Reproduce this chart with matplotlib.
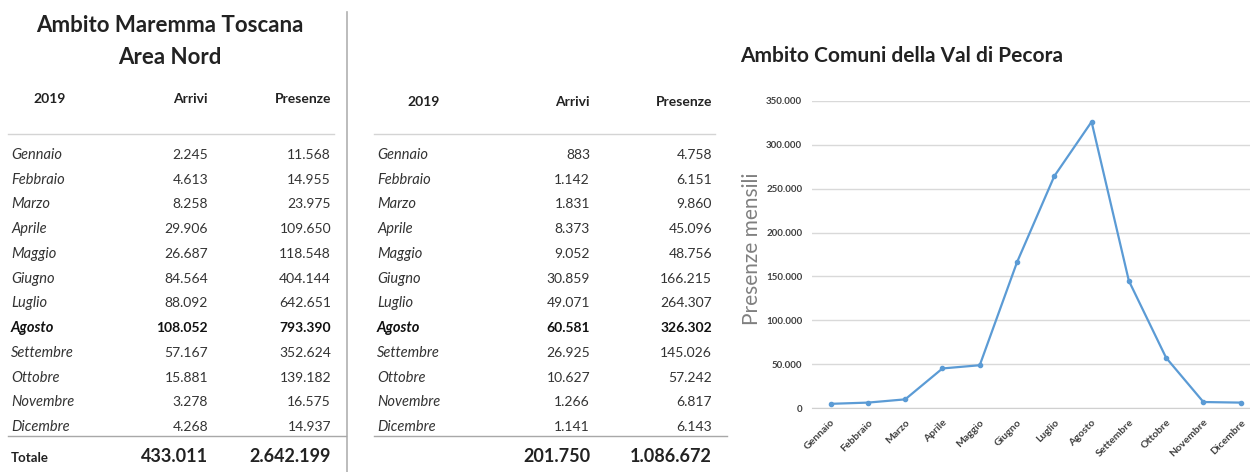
import matplotlib
matplotlib.use("Agg")
import matplotlib.pyplot as plt
from matplotlib.lines import Line2D

# dati
mesi = ["Gennaio", "Febbraio", "Marzo", "Aprile", "Maggio", "Giugno",
        "Luglio", "Agosto", "Settembre", "Ottobre", "Novembre", "Dicembre"]

arrivi_nord = [2245, 4613, 8258, 29906, 26687, 84564, 88092, 108052, 57167, 15881, 3278, 4268]
presenze_nord = [11568, 14955, 23975, 109650, 118548, 404144, 642651, 793390, 352624, 139182, 16575, 14937]
totali_nord = [433011, 2642199]

arrivi_pecora = [883, 1142, 1831, 8373, 9052, 30859, 49071, 60581, 26925, 10627, 1266, 1141]
presenze_pecora = [4758, 6151, 9860, 45096, 48756, 166215, 264307, 326302, 145026, 57242, 6817, 6143]
totali_pecora = [201750, 1086672]

y_ticks = [0, 50000, 100000, 150000, 200000, 250000, 300000, 350000]

plt.rcParams['font.family'] = ['Lato', 'DejaVu Sans']

W, H = 1250, 472
fig = plt.figure(figsize=(12.5, 4.72), dpi=100)


def px(x, y):
    return x / W, 1 - y / H


def fmt(n):
    return f"{n:,}".replace(",", ".")


def txt(x, y, s, **kw):
    kw.setdefault('color', '#222222')
    kw.setdefault('va', 'center')
    fig.text(*px(x, y), s, **kw)


def hline(x0, x1, y, color='#c8c8c8', lw=1.0):
    fig.add_artist(Line2D([x0 / W, x1 / W], [1 - y / H, 1 - y / H],
                          transform=fig.transFigure, color=color, lw=lw))


def tabella(x_mese, x_anno, x_arr, x_pres, arrivi, presenze, totali, totale_label, y_head):
    txt(x_anno, y_head, "2019", fontsize=10, fontweight='bold', ha='center')
    txt(x_arr, y_head, "Arrivi", fontsize=10, fontweight='bold', ha='right')
    txt(x_pres, y_head, "Presenze", fontsize=10, fontweight='bold', ha='right')
    hline(x_mese - 3, x_pres + 3, 134, color='#d4d4d4')
    row0, step = 155, (427 - 155) / 11
    for i, m in enumerate(mesi):
        y = row0 + i * step
        bold = 'bold' if m == "Agosto" else 'normal'
        c = '#111111' if m == "Agosto" else '#333333'
        txt(x_mese, y, m, fontsize=10.5, style='italic', fontweight=bold, ha='left', color=c)
        txt(x_arr, y, fmt(arrivi[i]), fontsize=10, fontweight=bold, ha='right', color=c)
        txt(x_pres, y, fmt(presenze[i]), fontsize=10, fontweight=bold, ha='right', color=c)
    hline(x_mese - 3, x_pres + 15, 436, color='#a8a8a8')
    if totale_label:
        txt(x_mese, 458, totale_label, fontsize=9.5, fontweight='bold', ha='left')
    txt(x_arr, 457, fmt(totali[0]), fontsize=13, fontweight='bold', ha='right')
    txt(x_pres, 457, fmt(totali[1]), fontsize=13, fontweight='bold', ha='right')


# titoli
txt(170, 25, "Ambito Maremma Toscana", fontsize=16, fontweight='bold', ha='center')
txt(170, 57, "Area Nord", fontsize=16, fontweight='bold', ha='center')
txt(902, 56, "Ambito Comuni della Val di Pecora", fontsize=15, fontweight='bold', ha='center')

# separatore verticale
fig.add_artist(Line2D([347 / W, 347 / W], [1 - 12 / H, 0], transform=fig.transFigure,
                      color='#b0b0b0', lw=1.2))

tabella(11, 50, 208, 331, arrivi_nord, presenze_nord, totali_nord, "Totale", 99)
tabella(377, 424, 590, 712, arrivi_pecora, presenze_pecora, totali_pecora, None, 102)

# grafico
left, right = 812 / W, 1.0
bottom, top = 1 - 408 / H, 1 - 101 / H
ax = fig.add_axes([left, bottom, right - left, top - bottom])
x = list(range(len(mesi)))
ax.plot(x, presenze_pecora, color='#5b9bd5', lw=1.6, marker='o', markersize=3, zorder=3)
ax.set_xlim(-0.5, 11.25)
ax.set_ylim(0, 350000)
ax.set_yticks(y_ticks)
ax.set_yticklabels([fmt(v) for v in y_ticks], fontsize=7, fontweight='bold', color='#404040')
ax.set_xticks(x)
ax.set_xticklabels(mesi, rotation=45, ha='right', rotation_mode='anchor',
                   fontsize=7.5, fontweight='bold', color='#404040')
ax.tick_params(axis='y', length=0, pad=7)
ax.tick_params(axis='x', length=0, pad=7)
ax.grid(axis='y', color='#d9d9d9', lw=1)
ax.set_axisbelow(True)
for s in ['top', 'right', 'left']:
    ax.spines[s].set_visible(False)
ax.spines['bottom'].set_color('#d0d0d0')
ax.set_ylabel("Presenze mensili", fontsize=15, color='#808080')
ax.yaxis.set_label_coords(-0.115, 0.52)

fig.savefig("out.png", dpi=100, facecolor='white')
